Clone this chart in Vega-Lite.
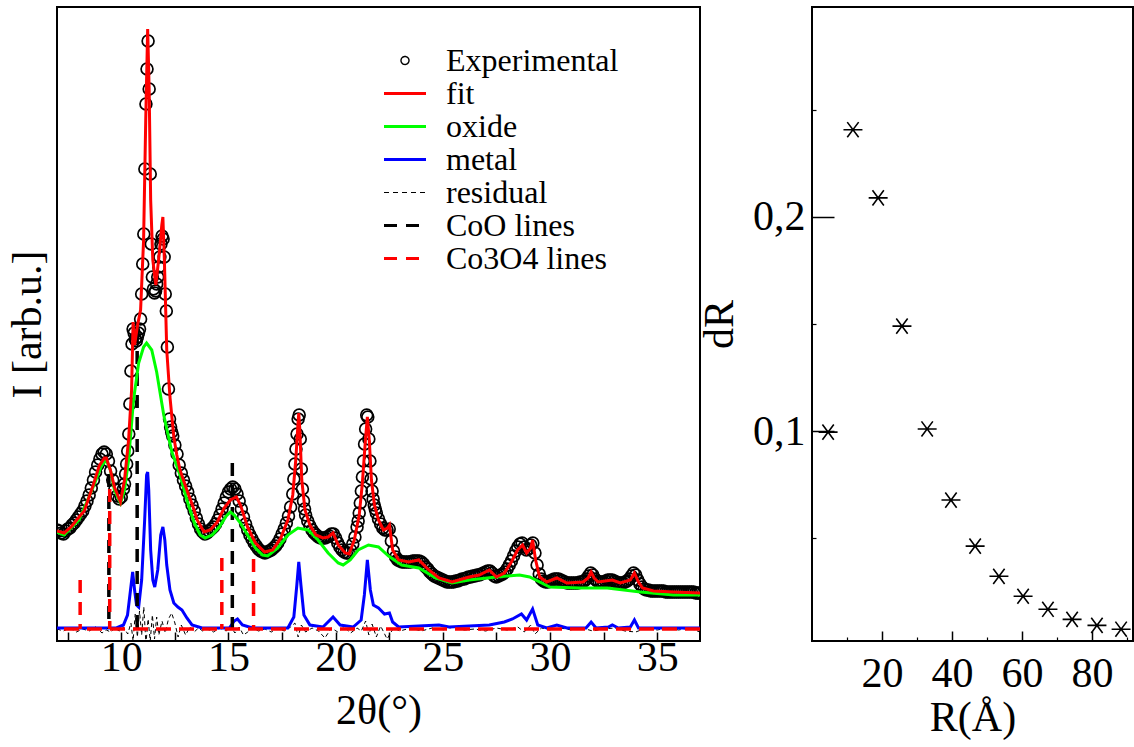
{
  "$schema": "https://vega.github.io/schema/vega-lite/v6.json",
  "autosize": {"type": "pad"},
  "padding": {"left": 5, "top": 6, "right": 0, "bottom": 5},
  "bounds": "flush",
  "spacing": 112,
  "background": "white",
  "config": {
    "font": "'Liberation Serif', 'Times New Roman', 'DejaVu Serif', serif",
    "view": {"stroke": "black", "strokeWidth": 2},
    "axis": {"labelFont": "'Liberation Serif', 'Times New Roman', 'DejaVu Serif', serif", "titleFont": "'Liberation Serif', 'Times New Roman', 'DejaVu Serif', serif", "labelColor": "black", "titleColor": "black", "titleFontWeight": "normal", "tickColor": "black", "grid": false, "domain": false, "labelFlush": false, "labelOverlap": false},
    "legend": {"labelFont": "'Liberation Serif', 'Times New Roman', 'DejaVu Serif', serif", "labelColor": "black"}
  },
  "datasets": {
    "exp": [
      {"t":7.0,"v":99},{"t":7.1,"v":98},{"t":7.2,"v":96},{"t":7.3,"v":95},{"t":7.4,"v":98},{"t":7.5,"v":100},{"t":7.6,"v":101},{"t":7.7,"v":104},{"t":7.8,"v":106},{"t":7.9,"v":109},
      {"t":8.0,"v":112},{"t":8.1,"v":115},{"t":8.2,"v":118},{"t":8.3,"v":123},{"t":8.4,"v":128},{"t":8.5,"v":134},{"t":8.6,"v":141},{"t":8.7,"v":149},{"t":8.8,"v":157},{"t":8.9,"v":164},
      {"t":9.0,"v":170},{"t":9.1,"v":175},{"t":9.2,"v":177},{"t":9.3,"v":175},{"t":9.4,"v":168},{"t":9.5,"v":158},{"t":9.6,"v":149},{"t":9.7,"v":140},{"t":9.8,"v":133},{"t":9.9,"v":130},
      {"t":10.0,"v":132},{"t":10.1,"v":140},{"t":10.15,"v":145},{"t":10.2,"v":155},{"t":10.25,"v":165},{"t":10.3,"v":178},{"t":10.35,"v":195},{"t":10.4,"v":225},{"t":10.45,"v":258},{"t":10.5,"v":285},
      {"t":10.55,"v":300},{"t":10.6,"v":296},{"t":10.65,"v":290},{"t":10.7,"v":288},{"t":10.75,"v":292},{"t":10.8,"v":296},{"t":10.85,"v":300},{"t":10.9,"v":310},{"t":10.95,"v":335},{"t":11.0,"v":365},
      {"t":11.05,"v":395},{"t":11.1,"v":460},{"t":11.15,"v":525},{"t":11.2,"v":560},{"t":11.25,"v":588},{"t":11.3,"v":540},{"t":11.35,"v":455},{"t":11.4,"v":385},{"t":11.45,"v":352},{"t":11.5,"v":340},
      {"t":11.55,"v":336},{"t":11.6,"v":338},{"t":11.65,"v":345},{"t":11.7,"v":352},{"t":11.75,"v":362},{"t":11.8,"v":372},{"t":11.85,"v":385},{"t":11.9,"v":393},{"t":11.95,"v":390},{"t":12.0,"v":372},
      {"t":12.05,"v":335},{"t":12.1,"v":318},{"t":12.15,"v":282},{"t":12.2,"v":240},{"t":12.25,"v":210},{"t":12.3,"v":202},{"t":12.35,"v":197},{"t":12.4,"v":193},{"t":12.5,"v":184},{"t":12.6,"v":175},
      {"t":12.7,"v":164},{"t":12.8,"v":156},{"t":12.9,"v":149},{"t":13.0,"v":143},{"t":13.1,"v":137},{"t":13.2,"v":130},{"t":13.3,"v":124},{"t":13.4,"v":118},{"t":13.5,"v":111},{"t":13.6,"v":105},
      {"t":13.7,"v":100},{"t":13.8,"v":97},{"t":13.9,"v":95},{"t":14.0,"v":96},{"t":14.1,"v":98},{"t":14.2,"v":100},{"t":14.3,"v":102},{"t":14.4,"v":105},{"t":14.5,"v":109},{"t":14.6,"v":114},
      {"t":14.7,"v":120},{"t":14.8,"v":126},{"t":14.9,"v":132},{"t":15.0,"v":137},{"t":15.1,"v":140},{"t":15.2,"v":142},{"t":15.3,"v":140},{"t":15.4,"v":135},{"t":15.5,"v":128},{"t":15.6,"v":120},
      {"t":15.7,"v":112},{"t":15.8,"v":105},{"t":15.9,"v":99},{"t":16.0,"v":94},{"t":16.1,"v":90},{"t":16.2,"v":86},{"t":16.3,"v":83},{"t":16.4,"v":80},{"t":16.5,"v":78},{"t":16.6,"v":77},
      {"t":16.7,"v":76},{"t":16.8,"v":77},{"t":16.9,"v":78},{"t":17.0,"v":79},{"t":17.1,"v":81},{"t":17.2,"v":83},{"t":17.3,"v":86},{"t":17.4,"v":90},{"t":17.5,"v":95},{"t":17.6,"v":100},
      {"t":17.7,"v":106},{"t":17.8,"v":113},{"t":17.9,"v":122},{"t":18.0,"v":135},{"t":18.05,"v":150},{"t":18.1,"v":165},{"t":18.15,"v":180},{"t":18.2,"v":195},{"t":18.25,"v":210},{"t":18.3,"v":214},
      {"t":18.35,"v":190},{"t":18.4,"v":160},{"t":18.45,"v":140},{"t":18.5,"v":128},{"t":18.55,"v":120},{"t":18.6,"v":114},{"t":18.7,"v":108},{"t":18.8,"v":103},{"t":18.9,"v":99},{"t":19.0,"v":96},
      {"t":19.1,"v":94},{"t":19.2,"v":92},{"t":19.3,"v":91},{"t":19.4,"v":91},{"t":19.5,"v":91},{"t":19.6,"v":92},{"t":19.7,"v":93},{"t":19.8,"v":95},{"t":19.9,"v":95},{"t":20.0,"v":91},
      {"t":20.1,"v":86},{"t":20.2,"v":82},{"t":20.3,"v":79},{"t":20.4,"v":77},{"t":20.5,"v":76},{"t":20.6,"v":76},{"t":20.7,"v":79},{"t":20.8,"v":85},{"t":20.9,"v":92},{"t":21.0,"v":102},
      {"t":21.05,"v":108},{"t":21.1,"v":116},{"t":21.15,"v":126},{"t":21.2,"v":138},{"t":21.25,"v":152},{"t":21.3,"v":168},{"t":21.35,"v":185},{"t":21.4,"v":200},{"t":21.45,"v":214},{"t":21.5,"v":212},
      {"t":21.55,"v":190},{"t":21.6,"v":168},{"t":21.65,"v":150},{"t":21.7,"v":138},{"t":21.75,"v":130},{"t":21.8,"v":124},{"t":21.85,"v":120},{"t":21.9,"v":116},{"t":22.0,"v":110},{"t":22.1,"v":105},
      {"t":22.2,"v":101},{"t":22.3,"v":99},{"t":22.4,"v":99},{"t":22.5,"v":100},{"t":22.6,"v":88},{"t":22.7,"v":78},{"t":22.8,"v":72},{"t":22.9,"v":69},{"t":23.0,"v":68},{"t":23.1,"v":67},
      {"t":23.2,"v":67},{"t":23.3,"v":67},{"t":23.4,"v":67},{"t":23.5,"v":67},{"t":23.6,"v":68},{"t":23.7,"v":68},{"t":23.8,"v":68},{"t":23.9,"v":68},{"t":24.0,"v":67},{"t":24.1,"v":65},
      {"t":24.2,"v":62},{"t":24.3,"v":60},{"t":24.4,"v":57},{"t":24.5,"v":55},{"t":24.6,"v":53},{"t":24.7,"v":52},{"t":24.8,"v":51},{"t":24.9,"v":50},{"t":25.0,"v":49},{"t":25.1,"v":48},
      {"t":25.2,"v":47},{"t":25.3,"v":47},{"t":25.4,"v":47},{"t":25.5,"v":47},{"t":25.6,"v":48},{"t":25.7,"v":48},{"t":25.8,"v":49},{"t":25.9,"v":50},{"t":26.0,"v":50},{"t":26.1,"v":51},
      {"t":26.2,"v":52},{"t":26.3,"v":52},{"t":26.4,"v":53},{"t":26.5,"v":53},{"t":26.6,"v":54},{"t":26.7,"v":54},{"t":26.8,"v":55},{"t":26.9,"v":56},{"t":27.0,"v":57},{"t":27.1,"v":58},
      {"t":27.2,"v":58},{"t":27.3,"v":56},{"t":27.4,"v":53},{"t":27.5,"v":52},{"t":27.6,"v":53},{"t":27.7,"v":54},{"t":27.8,"v":55},{"t":27.9,"v":57},{"t":28.0,"v":60},{"t":28.1,"v":64},
      {"t":28.2,"v":68},{"t":28.3,"v":73},{"t":28.4,"v":78},{"t":28.5,"v":82},{"t":28.6,"v":85},{"t":28.7,"v":86},{"t":28.8,"v":82},{"t":28.9,"v":79},{"t":29.0,"v":80},{"t":29.1,"v":84},
      {"t":29.2,"v":86},{"t":29.3,"v":76},{"t":29.4,"v":64},{"t":29.5,"v":55},{"t":29.6,"v":50},{"t":29.7,"v":48},{"t":29.8,"v":47},{"t":29.9,"v":47},{"t":30.0,"v":48},{"t":30.1,"v":49},
      {"t":30.2,"v":50},{"t":30.3,"v":50},{"t":30.4,"v":50},{"t":30.5,"v":49},{"t":30.6,"v":48},{"t":30.7,"v":47},{"t":30.8,"v":46},{"t":30.9,"v":46},{"t":31.0,"v":46},{"t":31.1,"v":46},
      {"t":31.2,"v":46},{"t":31.3,"v":46},{"t":31.4,"v":47},{"t":31.5,"v":47},{"t":31.6,"v":48},{"t":31.7,"v":50},{"t":31.8,"v":53},{"t":31.9,"v":56},{"t":32.0,"v":54},{"t":32.1,"v":50},
      {"t":32.2,"v":48},{"t":32.3,"v":47},{"t":32.4,"v":47},{"t":32.5,"v":47},{"t":32.6,"v":48},{"t":32.7,"v":49},{"t":32.8,"v":49},{"t":32.9,"v":49},{"t":33.0,"v":48},{"t":33.1,"v":47},
      {"t":33.2,"v":46},{"t":33.3,"v":46},{"t":33.4,"v":46},{"t":33.5,"v":47},{"t":33.6,"v":48},{"t":33.7,"v":50},{"t":33.8,"v":53},{"t":33.9,"v":56},{"t":34.0,"v":54},{"t":34.1,"v":49},
      {"t":34.2,"v":45},{"t":34.3,"v":42},{"t":34.4,"v":40},{"t":34.5,"v":39},{"t":34.6,"v":39},{"t":34.7,"v":38},{"t":34.8,"v":38},{"t":34.9,"v":38},{"t":35.0,"v":38},{"t":35.1,"v":38},
      {"t":35.2,"v":38},{"t":35.3,"v":38},{"t":35.4,"v":37},{"t":35.5,"v":37},{"t":35.6,"v":37},{"t":35.7,"v":37},{"t":35.8,"v":37},{"t":35.9,"v":37},{"t":36.0,"v":37},{"t":36.1,"v":37},
      {"t":36.2,"v":37},{"t":36.3,"v":37},{"t":36.4,"v":37},{"t":36.5,"v":37},{"t":36.6,"v":37},{"t":36.7,"v":37},{"t":36.8,"v":36},{"t":36.9,"v":36},{"t":37.0,"v":36}
    ],
    "fit": [
      {"t":7.00,"v":98},{"t":7.33,"v":96},{"t":7.66,"v":102},{"t":8.03,"v":112},{"t":8.27,"v":118},{"t":8.69,"v":144},{"t":8.97,"v":163},{"t":9.21,"v":171},{"t":9.30,"v":171},{"t":9.49,"v":159},
      {"t":9.68,"v":142},{"t":9.96,"v":127},{"t":10.15,"v":149},{"t":10.34,"v":189},{"t":10.48,"v":239},{"t":10.55,"v":307},{"t":10.62,"v":284},{"t":10.76,"v":304},{"t":10.90,"v":319},{"t":11.04,"v":389},
      {"t":11.14,"v":509},{"t":11.23,"v":600},{"t":11.30,"v":539},{"t":11.37,"v":429},{"t":11.47,"v":369},{"t":11.61,"v":344},{"t":11.75,"v":371},{"t":11.89,"v":404},{"t":11.94,"v":412},{"t":12.01,"v":369},
      {"t":12.12,"v":279},{"t":12.27,"v":232},{"t":12.45,"v":192},{"t":12.59,"v":174},{"t":12.74,"v":159},{"t":13.06,"v":139},{"t":13.35,"v":122},{"t":13.54,"v":109},{"t":13.86,"v":97},{"t":14.15,"v":99},
      {"t":14.48,"v":107},{"t":14.80,"v":121},{"t":15.09,"v":129},{"t":15.37,"v":132},{"t":15.56,"v":124},{"t":15.89,"v":102},{"t":16.26,"v":86},{"t":16.69,"v":77},{"t":17.06,"v":79},{"t":17.44,"v":91},
      {"t":17.77,"v":109},{"t":18.00,"v":134},{"t":18.14,"v":169},{"t":18.24,"v":204},{"t":18.28,"v":216},{"t":18.33,"v":199},{"t":18.42,"v":149},{"t":18.57,"v":119},{"t":18.80,"v":104},{"t":19.08,"v":94},
      {"t":19.41,"v":91},{"t":19.65,"v":92},{"t":19.88,"v":96},{"t":20.12,"v":84},{"t":20.45,"v":76},{"t":20.63,"v":75},{"t":20.87,"v":89},{"t":21.10,"v":114},{"t":21.24,"v":144},{"t":21.39,"v":189},
      {"t":21.48,"v":212},{"t":21.57,"v":189},{"t":21.67,"v":149},{"t":21.81,"v":124},{"t":22.00,"v":109},{"t":22.23,"v":99},{"t":22.42,"v":101},{"t":22.51,"v":104},{"t":22.66,"v":79},{"t":22.94,"v":69},
      {"t":23.41,"v":67},{"t":23.88,"v":69},{"t":24.35,"v":59},{"t":24.82,"v":51},{"t":25.43,"v":47},{"t":26.23,"v":52},{"t":26.70,"v":54},{"t":27.17,"v":59},{"t":27.50,"v":52},{"t":27.87,"v":56},
      {"t":28.20,"v":67},{"t":28.49,"v":79},{"t":28.72,"v":84},{"t":28.91,"v":76},{"t":29.10,"v":81},{"t":29.19,"v":89},{"t":29.33,"v":69},{"t":29.52,"v":52},{"t":29.85,"v":47},{"t":30.32,"v":51},
      {"t":30.79,"v":46},{"t":31.54,"v":47},{"t":31.78,"v":51},{"t":31.92,"v":57},{"t":32.06,"v":51},{"t":32.25,"v":47},{"t":32.91,"v":49},{"t":33.28,"v":46},{"t":33.75,"v":49},{"t":33.94,"v":56},
      {"t":34.13,"v":47},{"t":34.32,"v":41},{"t":34.83,"v":38},{"t":35.77,"v":37},{"t":37.00,"v":36}
    ],
    "oxide": [
      {"t":7.00,"v":97},{"t":7.33,"v":94},{"t":8.03,"v":109},{"t":8.69,"v":142},{"t":9.07,"v":163},{"t":9.30,"v":169},{"t":9.49,"v":159},{"t":9.68,"v":139},{"t":9.96,"v":126},{"t":10.15,"v":139},
      {"t":10.34,"v":169},{"t":10.57,"v":229},{"t":10.81,"v":266},{"t":11.04,"v":282},{"t":11.18,"v":286},{"t":11.42,"v":279},{"t":11.65,"v":257},{"t":11.98,"v":214},{"t":12.36,"v":177},{"t":12.74,"v":154},
      {"t":13.06,"v":129},{"t":13.39,"v":107},{"t":13.68,"v":94},{"t":13.91,"v":91},{"t":14.24,"v":94},{"t":14.57,"v":102},{"t":14.90,"v":113},{"t":15.09,"v":117},{"t":15.27,"v":114},{"t":15.56,"v":106},
      {"t":15.89,"v":94},{"t":16.26,"v":81},{"t":16.59,"v":74},{"t":16.83,"v":73},{"t":17.30,"v":81},{"t":17.77,"v":94},{"t":18.24,"v":101},{"t":18.71,"v":99},{"t":19.18,"v":89},{"t":19.65,"v":76},
      {"t":20.12,"v":66},{"t":20.35,"v":64},{"t":20.68,"v":69},{"t":21.05,"v":79},{"t":21.53,"v":84},{"t":22.00,"v":82},{"t":22.47,"v":73},{"t":23.08,"v":64},{"t":23.88,"v":61},{"t":24.68,"v":51},
      {"t":25.43,"v":46},{"t":26.23,"v":49},{"t":27.50,"v":52},{"t":28.58,"v":54},{"t":29.05,"v":52},{"t":29.99,"v":42},{"t":31.40,"v":41},{"t":32.67,"v":41},{"t":34.22,"v":37},{"t":35.77,"v":34},{"t":37.00,"v":34}
    ],
    "metal": [
      {"t":7.00,"v":1},{"t":9.77,"v":1},{"t":10.10,"v":4},{"t":10.29,"v":14},{"t":10.43,"v":39},{"t":10.53,"v":57},{"t":10.62,"v":39},{"t":10.71,"v":24},{"t":10.81,"v":22},{"t":10.95,"v":49},
      {"t":11.09,"v":109},{"t":11.18,"v":154},{"t":11.23,"v":157},{"t":11.28,"v":139},{"t":11.37,"v":79},{"t":11.47,"v":49},{"t":11.56,"v":42},{"t":11.70,"v":59},{"t":11.84,"v":94},{"t":11.94,"v":102},
      {"t":12.03,"v":89},{"t":12.12,"v":64},{"t":12.27,"v":39},{"t":12.45,"v":26},{"t":12.64,"v":22},{"t":12.83,"v":19},{"t":13.06,"v":11},{"t":13.30,"v":4},{"t":13.77,"v":1},{"t":15.04,"v":1},
      {"t":15.27,"v":8},{"t":15.42,"v":10},{"t":15.65,"v":4},{"t":16.12,"v":1},{"t":17.77,"v":1},{"t":18.05,"v":12},{"t":18.19,"v":44},{"t":18.28,"v":67},{"t":18.38,"v":44},{"t":18.52,"v":14},
      {"t":18.80,"v":4},{"t":19.41,"v":2},{"t":19.88,"v":12},{"t":20.21,"v":4},{"t":20.82,"v":2},{"t":21.19,"v":9},{"t":21.34,"v":34},{"t":21.48,"v":69},{"t":21.62,"v":39},{"t":21.76,"v":24},
      {"t":22.00,"v":21},{"t":22.28,"v":15},{"t":22.51,"v":16},{"t":22.66,"v":7},{"t":22.94,"v":2},{"t":24.82,"v":4},{"t":25.29,"v":2},{"t":27.17,"v":4},{"t":27.87,"v":7},{"t":28.25,"v":10},
      {"t":28.67,"v":15},{"t":28.91,"v":9},{"t":29.19,"v":20},{"t":29.43,"v":4},{"t":29.85,"v":1},{"t":30.32,"v":4},{"t":30.79,"v":1},{"t":31.68,"v":1},{"t":31.92,"v":7},{"t":32.15,"v":1},
      {"t":32.72,"v":2},{"t":32.91,"v":4},{"t":33.19,"v":1},{"t":33.75,"v":2},{"t":33.94,"v":9},{"t":34.13,"v":1},{"t":37.00,"v":1}
    ],
    "residual": [
      {"t":7.0,"v":0},{"t":7.3,"v":-2},{"t":7.6,"v":1},{"t":7.9,"v":-3},{"t":8.2,"v":0},{"t":8.5,"v":-2},{"t":8.8,"v":2},{"t":9.1,"v":-4},{"t":9.3,"v":-1},{"t":9.5,"v":-3},
      {"t":9.7,"v":1},{"t":9.9,"v":-2},{"t":10.1,"v":2},{"t":10.3,"v":-5},{"t":10.45,"v":6},{"t":10.55,"v":-12},{"t":10.65,"v":15},{"t":10.75,"v":-8},{"t":10.85,"v":18},{"t":10.95,"v":-6},
      {"t":11.05,"v":22},{"t":11.15,"v":-15},{"t":11.25,"v":10},{"t":11.35,"v":-12},{"t":11.45,"v":14},{"t":11.55,"v":-10},{"t":11.65,"v":12},{"t":11.75,"v":-6},{"t":11.9,"v":8},{"t":12.05,"v":-4},
      {"t":12.2,"v":10},{"t":12.35,"v":16},{"t":12.5,"v":6},{"t":12.65,"v":-8},{"t":12.8,"v":4},{"t":13.0,"v":-6},{"t":13.2,"v":2},{"t":13.4,"v":-3},{"t":13.6,"v":1},{"t":13.8,"v":-2},
      {"t":14.0,"v":0},{"t":14.3,"v":-3},{"t":14.6,"v":1},{"t":14.9,"v":-2},{"t":15.1,"v":3},{"t":15.3,"v":-4},{"t":15.5,"v":2},{"t":15.7,"v":-6},{"t":15.9,"v":-3},{"t":16.1,"v":1},
      {"t":16.4,"v":-2},{"t":16.7,"v":0},{"t":17.0,"v":-3},{"t":17.3,"v":1},{"t":17.6,"v":-2},{"t":17.9,"v":2},{"t":18.1,"v":6},{"t":18.25,"v":-8},{"t":18.4,"v":4},{"t":18.6,"v":-3},
      {"t":18.9,"v":1},{"t":19.2,"v":-2},{"t":19.5,"v":-9},{"t":19.8,"v":1},{"t":20.1,"v":-3},{"t":20.4,"v":2},{"t":20.7,"v":-4},{"t":21.0,"v":1},{"t":21.2,"v":-2},{"t":21.4,"v":8},
      {"t":21.55,"v":-6},{"t":21.7,"v":5},{"t":21.9,"v":-8},{"t":22.1,"v":3},{"t":22.4,"v":-10},{"t":22.7,"v":1},{"t":23.0,"v":-2},{"t":23.5,"v":1},{"t":24.0,"v":-2},{"t":24.5,"v":1},
      {"t":25.0,"v":-1},{"t":25.5,"v":2},{"t":26.0,"v":-1},{"t":26.5,"v":0},{"t":27.0,"v":-2},{"t":27.5,"v":1},{"t":28.0,"v":-1},{"t":28.5,"v":2},{"t":28.8,"v":-3},{"t":29.1,"v":4},
      {"t":29.3,"v":-5},{"t":29.6,"v":1},{"t":30.0,"v":-1},{"t":30.5,"v":1},{"t":31.0,"v":-1},{"t":31.5,"v":1},{"t":32.0,"v":-2},{"t":32.5,"v":0},{"t":33.0,"v":1},{"t":33.5,"v":-2},
      {"t":34.0,"v":-3},{"t":34.5,"v":1},{"t":35.0,"v":-1},{"t":35.5,"v":1},{"t":36.0,"v":-1},{"t":36.5,"v":1},{"t":37.0,"v":-3}
    ],
    "coo": [{"t":9.42,"h":155},{"t":10.74,"h":300},{"t":15.18,"h":166}],
    "co3o4": [{"t":8.08,"h":49},{"t":9.46,"h":140},{"t":14.69,"h":71},{"t":16.17,"h":70}],
    "base": [{"v":0}],
    "dr": [
      {"R":4.6,"dR":0.0995},{"R":11.7,"dR":0.2407},{"R":18.9,"dR":0.2089},{"R":25.7,"dR":0.149},{"R":32.9,"dR":0.101},{"R":39.7,"dR":0.0678},{"R":46.6,"dR":0.0463},
      {"R":53.4,"dR":0.0322},{"R":60.3,"dR":0.0229},{"R":67.4,"dR":0.0168},{"R":74.3,"dR":0.0121},{"R":81.4,"dR":0.0093},{"R":88.3,"dR":0.0075}
    ]
  },
  "hconcat": [
    {
      "width": 643,
      "height": 634,
      "layer": [
        {
          "data": {"name": "residual"},
          "mark": {"type": "line", "strokeWidth": 1, "strokeDash": [4, 3], "clip": true},
          "encoding": {
            "x": {"field": "t", "type": "quantitative", "title": "2θ(°)",
              "scale": {"domain": [7, 37], "nice": false, "zero": false},
              "axis": {"values": [7.5, 10, 12.5, 15, 17.5, 20, 22.5, 25, 27.5, 30, 32.5, 35], "labelExpr": "datum.value % 5 === 0 ? datum.label : ''", "tickSize": -9, "tickWidth": 1.5, "labelPadding": 5, "labelFontSize": 42, "titleFontSize": 42, "titlePadding": 12}},
            "y": {"field": "v", "type": "quantitative", "title": "I [arb.u.]",
              "scale": {"domain": [-12, 622], "nice": false, "zero": false},
              "axis": {"labels": false, "ticks": false, "titleFontSize": 42, "titlePadding": 8}},
            "color": {"datum": "residual", "type": "nominal",
              "scale": {"domain": ["Experimental", "fit", "oxide", "metal", "residual", "CoO lines", "Co3O4 lines"], "range": ["black", "#ff0000", "#00ff00", "#0000ff", "black", "black", "#ff0000"]},
              "legend": {"title": null, "orient": "none", "legendX": 327, "legendY": 38, "labelFontSize": 32, "labelLimit": 400, "symbolSize": 1764, "symbolType": "stroke", "symbolStrokeWidth": 3, "clipHeight": 31, "rowPadding": 0, "labelOffset": 30,
                "encode": {"symbols": {"update": {
                  "shape": {"signal": "datum.value === 'Experimental' ? 'circle' : 'stroke'"},
                  "size": {"signal": "datum.value === 'Experimental' ? 64 : 1764"},
                  "x": {"value": 21},
                  "strokeWidth": {"signal": "datum.value === 'residual' ? 1.2 : (datum.value === 'Experimental' ? 1.4 : 3)"},
                  "strokeDash": {"signal": "datum.value === 'residual' ? [5,4] : ((datum.value === 'CoO lines' || datum.value === 'Co3O4 lines') ? [13,9] : [1,0])"},
                  "fill": {"value": "transparent"},
                  "opacity": {"value": 1}
                }}}}}
          }
        },
        {
          "data": {"name": "metal"},
          "mark": {"type": "line", "strokeWidth": 3, "clip": true},
          "encoding": {
            "x": {"field": "t", "type": "quantitative", "title": "2θ(°)"},
            "y": {"field": "v", "type": "quantitative", "title": "I [arb.u.]"},
            "color": {"datum": "metal", "type": "nominal"}
          }
        },
        {
          "data": {"name": "exp"},
          "mark": {"type": "point", "shape": "circle", "filled": false, "size": 140, "strokeWidth": 1.7, "opacity": 1, "clip": true},
          "encoding": {
            "x": {"field": "t", "type": "quantitative", "title": "2θ(°)"},
            "y": {"field": "v", "type": "quantitative", "title": "I [arb.u.]"},
            "color": {"datum": "Experimental", "type": "nominal"}
          }
        },
        {
          "data": {"name": "coo"},
          "mark": {"type": "rule", "strokeWidth": 3.5, "strokeDash": [13, 9], "clip": true},
          "encoding": {
            "x": {"field": "t", "type": "quantitative", "title": "2θ(°)"},
            "y": {"field": "h", "type": "quantitative", "title": "I [arb.u.]"},
            "y2": {"datum": 0},
            "color": {"datum": "CoO lines", "type": "nominal"}
          }
        },
        {
          "data": {"name": "co3o4"},
          "mark": {"type": "rule", "strokeWidth": 3.5, "strokeDash": [13, 9], "clip": true},
          "encoding": {
            "x": {"field": "t", "type": "quantitative", "title": "2θ(°)"},
            "y": {"field": "h", "type": "quantitative", "title": "I [arb.u.]"},
            "y2": {"datum": 0},
            "color": {"datum": "Co3O4 lines", "type": "nominal"}
          }
        },
        {
          "data": {"name": "base"},
          "mark": {"type": "rule", "strokeWidth": 3.5, "strokeDash": [15, 8], "clip": true},
          "encoding": {
            "y": {"field": "v", "type": "quantitative", "title": "I [arb.u.]"},
            "color": {"datum": "Co3O4 lines", "type": "nominal"}
          }
        },
        {
          "data": {"name": "oxide"},
          "mark": {"type": "line", "strokeWidth": 3, "clip": true},
          "encoding": {
            "x": {"field": "t", "type": "quantitative", "title": "2θ(°)"},
            "y": {"field": "v", "type": "quantitative", "title": "I [arb.u.]"},
            "color": {"datum": "oxide", "type": "nominal"}
          }
        },
        {
          "data": {"name": "fit"},
          "mark": {"type": "line", "strokeWidth": 3, "clip": true},
          "encoding": {
            "x": {"field": "t", "type": "quantitative", "title": "2θ(°)"},
            "y": {"field": "v", "type": "quantitative", "title": "I [arb.u.]"},
            "color": {"datum": "fit", "type": "nominal"}
          }
        }
      ]
    },
    {
      "width": 321,
      "height": 634,
      "data": {"name": "dr"},
      "layer": [
        {
          "mark": {"type": "point", "shape": "M-1,0L1,0M-0.6,-0.8L0.6,0.8M-0.6,0.8L0.6,-0.8", "filled": false, "color": "black", "strokeWidth": 1.6, "size": 360, "opacity": 1},
          "encoding": {
            "x": {"field": "R", "type": "quantitative", "title": "R(Å)",
              "scale": {"domain": [0, 91.7], "nice": false, "zero": false},
              "axis": {"orient": "bottom", "values": [20, 40, 60, 80], "tickSize": -10, "tickWidth": 1.5, "labelPadding": 22, "labelFontSize": 42, "titleFontSize": 42, "titlePadding": 3}},
            "y": {"field": "dR", "type": "quantitative", "title": "dR",
              "scale": {"domain": [0.002, 0.298], "nice": false, "zero": false},
              "axis": {"orient": "left", "values": [0.1, 0.2], "format": ".1f", "labelExpr": "replace(datum.label, '.', ',')", "tickSize": -22, "tickWidth": 1.5, "labelPadding": 29, "labelFontSize": 42, "titleFontSize": 42, "titlePadding": 11}}
          }
        },
        {
          "mark": {"type": "point", "opacity": 0},
          "encoding": {
            "x": {"field": "R", "type": "quantitative", "title": null,
              "axis": {"orient": "bottom", "values": [10, 30, 50, 70, 90], "tickSize": -4, "tickWidth": 1.2, "labels": false}},
            "y": {"field": "dR", "type": "quantitative", "title": null,
              "axis": {"orient": "left", "values": [0.05, 0.15, 0.25], "tickSize": -4, "tickWidth": 1.2, "labels": false}}
          }
        }
      ],
      "resolve": {"axis": {"x": "independent", "y": "independent"}}
    }
  ]
}
